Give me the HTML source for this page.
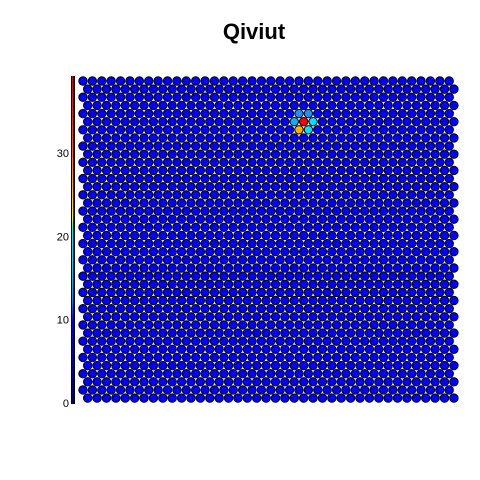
<!DOCTYPE html>
<html><head><meta charset="utf-8"><style>
html,body{margin:0;padding:0;background:#fff;}
svg{display:block;font-family:"Liberation Sans",sans-serif;}
</style></head><body>
<svg id="chart" width="480" height="480" viewBox="0 0 480 480">
<defs>
<linearGradient id="cbar" x1="0" y1="1" x2="0" y2="0">
<stop offset="0" stop-color="#000080"/>
<stop offset="0.25" stop-color="#0000ff"/>
<stop offset="0.32" stop-color="#0090ff"/>
<stop offset="0.42" stop-color="#00ccff"/>
<stop offset="0.53" stop-color="#00e5ff"/>
<stop offset="0.57" stop-color="#ffee00"/>
<stop offset="0.66" stop-color="#ffaa00"/>
<stop offset="0.82" stop-color="#ff4000"/>
<stop offset="1" stop-color="#cc0000"/>
</linearGradient>
</defs>
<text x="254" y="39" text-anchor="middle" font-size="22" font-weight="bold">Qiviut</text>
<rect x="71" y="76" width="4" height="328" fill="#000"/>
<rect x="72" y="76" width="1.2" height="328" fill="url(#cbar)"/>
<g id="ticks"></g>
<g id="cells"></g>
</svg>
<script>
const nRows = 40;
const nCols = 40;
const tickValues = [0, 10, 20, 30];
const tickLabels = ["0", "10", "20", "30"];
// non-zero cells: [row-from-top, column, value]
const hotRows = [4, 4, 5, 5, 5, 6, 6];
const hotCols = [23, 24, 22, 23, 24, 23, 24];
const hotValues = [8, 8, 10, 39, 13, 25, 13];
const colorStops = [0, 8, 10, 13, 25, 39];
const colorHex = ["#0000ff", "#1e90ff", "#00b4ff", "#00e0ff", "#ffb000", "#ff0000"];

const NS = "http://www.w3.org/2000/svg";
const x0 = 83, y0 = 81, dy = 8.13, dx = 9.39, r = 4.2;
function yScale(v){ return 403 - v * 8.33; }
function cx(row, col){ return x0 + col * dx + (row % 2 === 1 ? dx / 2 : 0); }
function cy(row){ return y0 + row * dy; }
function hex2rgb(h){ return [parseInt(h.substr(1,2),16),parseInt(h.substr(3,2),16),parseInt(h.substr(5,2),16)]; }
function colorFor(v){
  if (v <= colorStops[0]) return colorHex[0];
  for (let i = 1; i < colorStops.length; i++) {
    if (v <= colorStops[i]) {
      const t = (v - colorStops[i-1]) / (colorStops[i] - colorStops[i-1]);
      const a = hex2rgb(colorHex[i-1]), b = hex2rgb(colorHex[i]);
      return "rgb(" + a.map((c,k)=>Math.round(c + (b[k]-c)*t)).join(",") + ")";
    }
  }
  return colorHex[colorHex.length-1];
}
const values = [];
for (let i = 0; i < nRows; i++) { values.push(new Array(nCols).fill(0)); }
for (let k = 0; k < hotValues.length; k++) { values[hotRows[k]][hotCols[k]] = hotValues[k]; }

const cells = document.getElementById("cells");
for (let i = 0; i < nRows; i++) {
  for (let j = 0; j < nCols; j++) {
    const c = document.createElementNS(NS, "circle");
    c.setAttribute("cx", cx(i, j));
    c.setAttribute("cy", cy(i));
    c.setAttribute("r", r);
    c.setAttribute("fill", colorFor(values[i][j]));
    c.setAttribute("stroke", "#000");
    c.setAttribute("stroke-width", "1");
    
    
    cells.appendChild(c);
  }
}
const ticks = document.getElementById("ticks");
for (let k = 0; k < tickValues.length; k++) {
  const t = document.createElementNS(NS, "text");
  t.setAttribute("x", 69);
  t.setAttribute("y", yScale(tickValues[k]) + 4);
  t.setAttribute("text-anchor", "end");
  t.setAttribute("font-size", "11");
  t.textContent = tickLabels[k];
  
  
  ticks.appendChild(t);
}
</script>
</body></html>
